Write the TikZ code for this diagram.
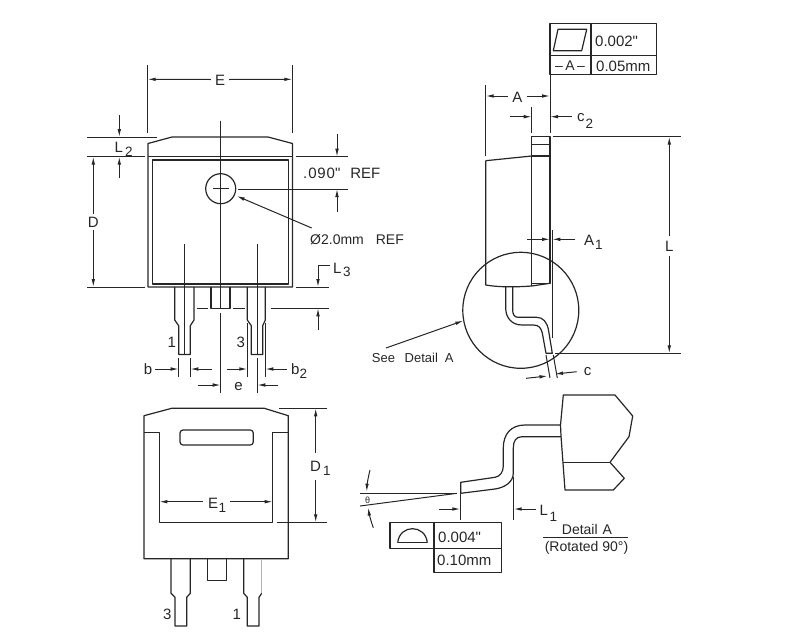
\documentclass[tikz,border=0pt]{standalone}
\usepackage{fontspec}
\setmainfont{Liberation Sans}
\usetikzlibrary{arrows.meta}
\definecolor{ink}{HTML}{262626}
\tikzset{
  ln/.style={draw=ink,line width=1.2pt,line join=round},
  thn/.style={draw=ink,line width=1pt},
  dimarrow/.style={draw=ink,line width=1pt,-{Latex[length=8pt,width=3.6pt]}},
  lbl/.style={text=ink,inner sep=0pt,font=\fontsize{15}{15}\selectfont},
  lbs/.style={text=ink,inner sep=0pt,font=\fontsize{14}{14}\selectfont},
  lbd/.style={text=ink,inner sep=0pt,font=\fontsize{13}{14}\selectfont},
  sub/.style={text=ink,inner sep=0pt,font=\fontsize{13.5}{13}\selectfont},
}
\begin{document}
\begin{tikzpicture}[x=1pt,y=-1pt]
\useasboundingbox (0,0) rectangle (787,643);
% ---------- top-left view
\draw[ln] (148,156.7) -- (148,143.5) -- (172,137) -- (268,137) -- (292.5,143.5) -- (292.5,287) -- (148,287) -- cycle;
\draw[ln] (148,156.7) -- (292.5,156.7);
\draw[ln] (152.3,160) rectangle (288.7,284);
\draw[thn] (220.7,120.7) -- (220.7,308);
\draw[thn] (220.7,313) -- (220.7,393);
\draw[ln] (220.7,188.7) circle (15);
\draw[thn] (213,188.7) -- (228.5,188.7);
\node[lbl] (E) at (220,80) {E};
\draw[thn] (147.7,65) -- (147.7,133);
\draw[thn] (292.3,65) -- (292.3,133);
\draw[dimarrow] (E.west) ++(-4,-0.5) -- (147.7,79.3);
\draw[dimarrow] (E.east) ++(4,-0.5) -- (292.3,79.3);
% L2 / D
\draw[thn] (87,137) -- (157,137);
\draw[thn] (87,156.7) -- (145,156.7);
\draw[thn] (87,287) -- (145,287);
\draw[dimarrow] (119.3,115) -- (119.3,137);
\draw[dimarrow] (119.3,178) -- (119.3,156.7);
\node[lbl,anchor=west] (L2) at (114.5,147) {L};
\node[sub,anchor=west] (L2s) at (125,151.5) {2};
\node[lbl] (D) at (93.3,222) {D};
\draw[dimarrow] (D.north) ++(0,-3) -- (93.3,156.7);
\draw[dimarrow] (D.south) ++(0,3) -- (93.3,287);
% .090 REF
\draw[thn] (296,156.7) -- (347.7,156.7);
\draw[thn] (238,189) -- (347.7,189);
\draw[dimarrow] (337,134) -- (337,156.7);
\draw[dimarrow] (337,211.7) -- (337,189);
\node[lbl,anchor=west] (ref) at (303,173) {{\addfontfeatures{LetterSpace=6}.090\textquotedbl}\hspace{10pt}REF};
% phi
\node[lbs,anchor=west] (phi) at (310,240) {Ø2.0mm\hspace{12pt}REF};
\coordinate (phistart) at (311.7,228);
\draw[dimarrow] (phistart) -- (236.7,196);
% L3
\draw[thn] (296,287) -- (329,287);
\draw[thn] (270.7,308.3) -- (329,308.3);
\draw[dimarrow] (330,265) -- (318,265) -- (318,287);
\draw[dimarrow] (318,330) -- (318,308.3);
\node[lbl,anchor=west] (L3) at (333,268) {L};
\node[sub,anchor=west] (L3s) at (343,272) {3};
% tab and hidden line
\draw[ln] (211,287) -- (211,308.3) -- (230,308.3) -- (230,287);
\draw[thn] (196.7,308.3) -- (208,308.3);
\draw[thn] (233,308.3) -- (245,308.3);
% leads
\draw[ln] (174.7,287) -- (174.7,320) -- (178.7,325.7) -- (178.7,354.5) -- (190.3,354.5) -- (190.3,325.7) -- (194,320) -- (194,287);
\draw[ln] (247.3,287) -- (247.3,320) -- (251.3,325.7) -- (251.3,354.5) -- (262.7,354.5) -- (262.7,325.7) -- (265.3,320) -- (265.3,287);
\draw[thn] (184.3,244) -- (184.3,354);
\draw[thn] (257.3,244) -- (257.3,354);
\node[lbl] (one) at (171.7,342) {1};
\node[lbl] (three) at (240.7,342) {3};
% b, b2, e
\draw[thn] (178.7,358) -- (178.7,377);
\draw[thn] (190.3,358) -- (190.3,377);
\draw[thn] (247.3,323) -- (247.3,377);
\draw[thn] (265.3,323) -- (265.3,377);
\draw[thn] (257.3,358) -- (257.3,393);
\node[lbl] (b) at (148,369) {b};
\draw[dimarrow] (b.east) ++(3,0) -- (178.7,369);
\draw[dimarrow] (211.7,369) -- (190.3,369);
\draw[dimarrow] (226.7,369) -- (247.3,369);
\draw[dimarrow] (286.7,369) -- (265.3,369);
\node[lbl,anchor=west] (b2) at (291,369) {b};
\node[sub,anchor=west] (b2s) at (299.5,374) {2};
\draw[dimarrow] (198,385) -- (220.7,385);
\draw[dimarrow] (278,385) -- (257.3,385);
\node[lbl] (e) at (238.5,387) {e};
% ---------- right view
\draw[ln] (550,23.3) rectangle (656.7,74.3);
\draw[ln] (550,55.7) -- (656.7,55.7);
\draw[ln] (591,23.3) -- (591,74.3);
\draw[ln] (558,29.3) -- (586.7,29.3) -- (581.7,50.7) -- (553.3,50.7) -- cycle;
\node[lbl,anchor=west] (t1) at (595,41) {0.002\textquotedbl};
\node[lbs] (t2) at (570,65.5) {–\,A\,–};
\node[lbl,anchor=west] (t3) at (596,66) {0.05mm};
\draw[thn] (550,74.3) -- (550,132.7);
\draw[thn] (485.7,85) -- (485.7,156);
\draw[thn] (531.7,106.7) -- (531.7,132.7);
\node[lbl] (A) at (517.3,97) {A};
\draw[dimarrow] (A.west) ++(-4,-1) -- (485.7,96);
\draw[dimarrow] (A.east) ++(4,-1) -- (550,96);
\draw[dimarrow] (510,116.7) -- (531.7,116.7);
\draw[dimarrow] (571.7,116.7) -- (550,116.7);
\node[lbl,anchor=west] (c2) at (577,118) {c};
\node[sub,anchor=west] (c2s) at (585.5,123.5) {2};
% body
\draw[ln] (531.7,136.7) rectangle (550,283.3);
\draw[ln] (531.7,144.3) -- (550,144.3);
\draw[ln] (531.7,156) -- (550,156);
\draw[ln] (485.7,160.7) -- (531.7,156);
\draw[ln] (485.7,160.7) -- (485.7,285) .. controls (500,287.5) and (518,287) .. (531.7,286) -- (550,283.3);
\draw[ln] (531.7,283) -- (531.7,286);
% L
\draw[thn] (553,136.7) -- (681,136.7);
\draw[thn] (555,353.3) -- (681,353.3);
\node[lbl] (L) at (669.3,246) {L};
\draw[dimarrow] (L.north) ++(0,-5) -- (669.3,136.7);
\draw[dimarrow] (L.south) ++(0,5) -- (669.3,353.3);
% A1
\draw[thn] (552.3,230) -- (552.3,338);
\draw[dimarrow] (527.3,239.3) -- (550,239.3);
\draw[dimarrow] (575,239.3) -- (552.3,239.3);
\node[lbl,anchor=west] (A1) at (584,240) {A};
\node[sub,anchor=west] (A1s) at (595,245) {1};
% detail circle
\draw[ln] (520.8,310.3) circle (58);
% lead
\draw[ln] (505.7,286.5) -- (505.7,308) .. controls (505.7,318) and (512,325) .. (522,325) -- (533.3,325) .. controls (539,325) and (541,328) .. (542.3,333) -- (546,353.3) -- (552.3,353.3) -- (548.5,330) .. controls (547,322) and (543,317.3) .. (536.7,317.3) -- (518,317.3) .. controls (514,317.3) and (512.7,314) .. (512.7,310) -- (512.7,286.5);
% c
\draw[thn] (546,355) -- (550,378);
\draw[thn] (553.3,355) -- (557.3,378);
\draw[dimarrow] (526,378.3) -- (547.5,376);
\draw[dimarrow] (576.7,371.7) -- (555,374);
\node[lbl] (c) at (587.7,372) {c};
% see detail
\node[lbd,anchor=west] (see) at (371.7,357.7) {See\hspace{9.7pt}Detail\hspace{7pt}A};
\coordinate (seestart) at (386,348);
\draw[dimarrow] (seestart) -- (463.3,320.7);
% ---------- bottom view
\draw[ln] (144,415.7) -- (171.7,408.3) -- (264.3,408.3) -- (288.3,415.7) -- (288.3,558.7) -- (144,558.7) -- cycle;
\draw[ln] (144,432.3) -- (159.3,432.3) -- (159.3,522.3) -- (272.7,522.3) -- (272.7,432.3) -- (288.3,432.3);
\draw[ln,rounded corners=3pt] (180,430) rectangle (253.3,445);
\node[lbl,anchor=west] (E1) at (208,503) {E};
\node[sub,anchor=west] (E1s) at (218.5,508) {1};
\draw[dimarrow] (203,501.7) -- (159.3,501.7);
\draw[dimarrow] (230,501.7) -- (272.7,501.7);
\draw[thn] (279.3,408.3) -- (326.7,408.3);
\draw[thn] (276.7,522.3) -- (326.7,522.3);
\node[lbl,anchor=west] (D1) at (310,466) {D};
\node[sub,anchor=west] (D1s) at (323,471) {1};
\draw[dimarrow] (315.7,453) -- (315.7,408.3);
\draw[dimarrow] (315.7,480) -- (315.7,522.3);
\draw[ln] (207.3,558.7) -- (207.3,580.7) -- (226.7,580.7) -- (226.7,558.7);
\draw[ln] (171,558.7) -- (171,593.3) -- (175,597.3) -- (175,626) -- (186.7,626) -- (186.7,597.3) -- (190.3,593.3) -- (190.3,558.7);
\draw[ln] (243.7,558.7) -- (243.7,593.3) -- (247.3,597.3) -- (247.3,626) -- (259,626) -- (259,597.3) -- (261.7,593.3);
\draw[draw=black!30,line width=0.9pt] (261.7,593.3) -- (261.7,558.7);
\node[lbl] (three2) at (167.3,614) {3};
\node[lbl] (one2) at (236.7,614) {1};
% ---------- detail A
\draw[ln] (563.3,395) -- (615,395) -- (632.7,416) -- (629,436.7) -- (610,462.3) -- (624.3,478.3) -- (613.3,490) -- (565,490) -- (561,436) -- (560.5,425) -- cycle;
\draw[ln] (562.7,462.3) -- (610,462.3);
\draw[ln] (560.5,425) -- (525,425) .. controls (511,425) and (503.3,434) .. (503.3,448) -- (503.3,466) .. controls (503.3,472) and (500,476.5) .. (495,477.3) -- (460.7,482.3) -- (460.7,493.3) -- (495,489) .. controls (505,487.5) and (513.3,482) .. (513.3,473) -- (513.3,448) .. controls (513.3,441) and (516,436.7) .. (522,436.7) -- (561,436.7);
% angle
\draw[thn] (360,493.3) -- (457,493.3);
\draw[thn] (360,506) -- (457,493.3);
\draw[dimarrow] (370,470) .. controls (368,478) and (367,485) .. (366.7,491.7);
\draw[dimarrow] (373.3,527.7) .. controls (370.5,520) and (369,513) .. (368.3,507.5);
\node[text=ink,inner sep=0pt,font=\fontsize{9}{9}\selectfont] (theta) at (367.5,500) {θ};
% L1
\draw[thn] (460.3,494) -- (460.3,520);
\draw[thn] (513.7,476.7) -- (513.7,520);
\draw[dimarrow] (439.3,509) -- (460.3,509);
\draw[dimarrow] (536,509) -- (513.7,509);
\node[lbl,anchor=west] (L1) at (539.5,510) {L};
\node[sub,anchor=west] (L1s) at (549.5,517) {1};
% tolerance box
\draw[ln] (390,522.7) rectangle (434,548.3);
\draw[ln] (434,522.7) rectangle (501.7,548.3);
\draw[ln] (434,548.3) rectangle (501.7,572.7);
\draw[ln] (397.7,542.7) -- (427.3,542.7);
\draw[ln] (397.7,542.7) .. controls (399.5,524) and (425.5,524) .. (427.3,542.7);
\node[lbl,anchor=west] (t4) at (438,537) {0.004\textquotedbl};
\node[lbl,anchor=west] (t5) at (437,560) {0.10mm};
% detail label
\node[lbs,anchor=west] (da) at (561.7,529.5) {Detail\hspace{5pt}A};
\draw[thn] (543.3,537.3) -- (628.3,537.3);
\node[lbs] (rot) at (586.5,547.5) {(Rotated 90°)};
\end{tikzpicture}
\end{document}
